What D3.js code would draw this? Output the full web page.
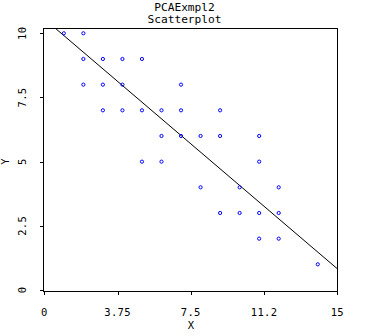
<!DOCTYPE html>
<html>
<head>
<meta charset="utf-8">
<script src="https://cdn.jsdelivr.net/npm/d3@7"></script>
<style>
  html, body { margin: 0; padding: 0; background: #fff; }
  svg { display: block; }
  text { font-family: "DejaVu Sans Mono", "Liberation Mono", monospace; fill: #000; }
</style>
</head>
<body>
<svg id="chart" width="369" height="336"></svg>
<script>
// Observations (X, Y)
const xValues = [1, 2, 2, 3, 4, 5, 2, 3, 4, 7, 3, 4, 5, 6, 7, 9, 6, 7, 8, 9, 11, 5, 6, 11, 8, 10, 12, 9, 10, 11, 12, 11, 12, 14];
const yValues = [10, 10, 9, 9, 9, 9, 8, 8, 8, 8, 7, 7, 7, 7, 7, 7, 6, 6, 6, 6, 6, 5, 5, 5, 4, 4, 4, 3, 3, 3, 3, 2, 2, 1];

const xTicks = [0, 3.75, 7.5, 11.25, 15];
const xTickLabels = ["0", "3.75", "7.5", "11.2", "15"];
const yTicks = [0, 2.5, 5, 7.5, 10];
const yTickLabels = ["0", "2.5", "5", "7.5", "10"];

const titleLines = ["PCAExmpl2", "Scatterplot"];

const svg = d3.select("#chart");

const x = d3.scaleLinear().domain([0, 15]).range([44.3, 337.3]);
const y = d3.scaleLinear().domain([0, 10]).range([290, 33.3]);

const frame = { left: 43, right: 337.5, top: 28, bottom: 291.5 };

// Title
svg.selectAll("text.title")
  .data(titleLines)
  .join("text")
  .attr("class", "title")
  .attr("x", 184.5)
  .attr("y", (d, i) => 10.5 + i * 12.3)
  .attr("text-anchor", "middle")
  .attr("font-size", "11.2px")
  .text(d => d);

// Plot frame
svg.append("rect")
  .attr("x", frame.left)
  .attr("y", frame.top)
  .attr("width", frame.right - frame.left)
  .attr("height", frame.bottom - frame.top)
  .attr("fill", "none")
  .attr("stroke", "#000")
  .attr("stroke-width", 1)
  .attr("shape-rendering", "crispEdges");

// X axis ticks and labels
const xAxis = svg.append("g");
xAxis.selectAll("line")
  .data(xTicks)
  .join("line")
  .attr("x1", d => Math.round(x(d)) + 0.5)
  .attr("x2", d => Math.round(x(d)) + 0.5)
  .attr("y1", frame.bottom)
  .attr("y2", frame.bottom + 3)
  .attr("stroke", "#000")
  .attr("shape-rendering", "crispEdges");
xAxis.selectAll("text")
  .data(xTicks)
  .join("text")
  .attr("x", d => x(d))
  .attr("y", 315.5)
  .attr("text-anchor", "middle")
  .attr("font-size", "10.5px")
  .attr("letter-spacing", "0.3px")
  .text((d, i) => xTickLabels[i]);

svg.append("text")
  .attr("x", x(7.5))
  .attr("y", 328.5)
  .attr("text-anchor", "middle")
  .attr("font-size", "10.5px")
  .text("X");

// Y axis ticks and labels
const yAxis = svg.append("g");
yAxis.selectAll("line")
  .data(yTicks)
  .join("line")
  .attr("x1", frame.left - 3)
  .attr("x2", frame.left)
  .attr("y1", d => Math.round(y(d)) + 0.5)
  .attr("y2", d => Math.round(y(d)) + 0.5)
  .attr("stroke", "#000")
  .attr("shape-rendering", "crispEdges");
yAxis.selectAll("text")
  .data(yTicks)
  .join("text")
  .attr("transform", d => `translate(25.5,${y(d)}) rotate(-90)`)
  .attr("text-anchor", "middle")
  .attr("font-size", "10.5px")
  .attr("letter-spacing", "0.3px")
  .text((d, i) => yTickLabels[i]);

svg.append("text")
  .attr("transform", `translate(8.5,${y(5)}) rotate(-90)`)
  .attr("text-anchor", "middle")
  .attr("font-size", "10.5px")
  .text("Y");

// First principal axis through the centroid
const n = xValues.length;
const mx = d3.mean(xValues), my = d3.mean(yValues);
let sxx = 0, syy = 0, sxy = 0;
for (let i = 0; i < n; i++) {
  const dx = xValues[i] - mx, dy = yValues[i] - my;
  sxx += dx * dx; syy += dy * dy; sxy += dx * dy;
}
const slope = (syy - sxx + Math.sqrt((syy - sxx) ** 2 + 4 * sxy * sxy)) / (2 * sxy);
const lineAt = xv => my + slope * (xv - mx);
// clip the axis to the plot frame
const yTop = y.invert(frame.top);
const xStart = mx + (yTop - my) / slope;
const xEnd = x.invert(frame.right);

svg.append("defs").append("clipPath").attr("id", "plotClip")
  .append("rect")
  .attr("x", frame.left).attr("y", frame.top)
  .attr("width", frame.right - frame.left).attr("height", frame.bottom - frame.top);

svg.append("line")
  .attr("clip-path", "url(#plotClip)")
  .attr("x1", x(xStart)).attr("y1", y(lineAt(xStart)))
  .attr("x2", x(xEnd)).attr("y2", y(lineAt(xEnd)))
  .attr("stroke", "#000")
  .attr("stroke-width", 1);

// Points
svg.append("g")
  .selectAll("circle")
  .data(d3.range(n))
  .join("circle")
  .attr("cx", i => x(xValues[i]))
  .attr("cy", i => y(yValues[i]))
  .attr("r", 1.6)
  .attr("fill", "none")
  .attr("stroke", "#0000ff")
  .attr("stroke-width", 1);
</script>
</body>
</html>
